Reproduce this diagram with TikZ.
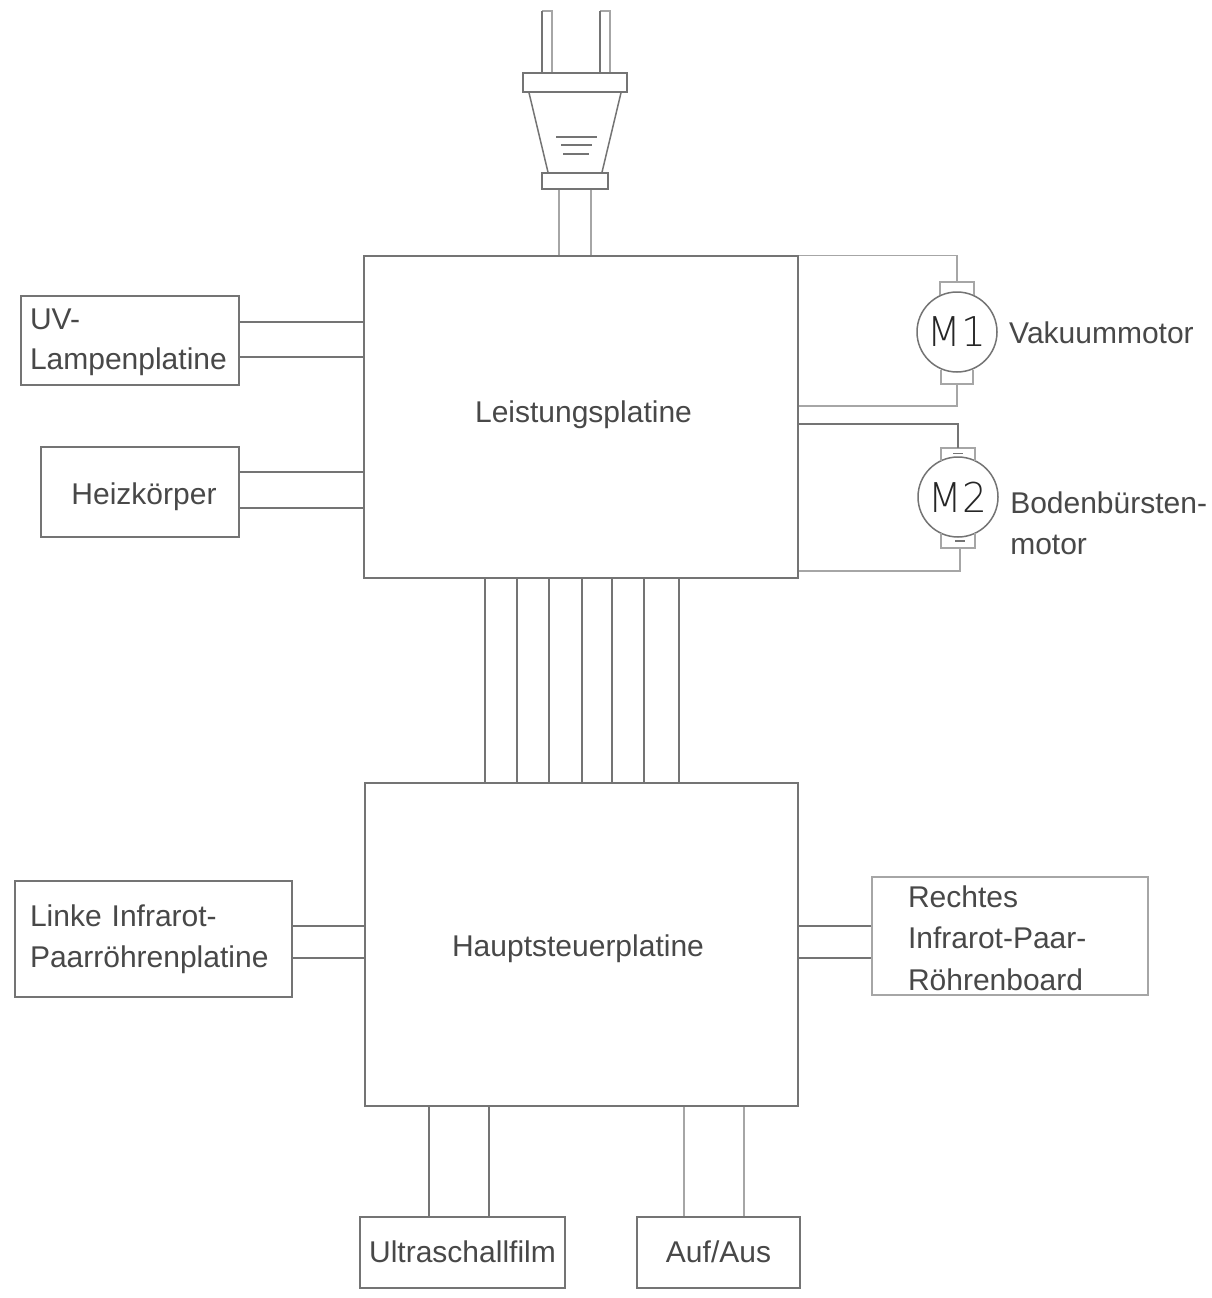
\documentclass[tikz,border=0pt]{standalone}
\usepackage{fontspec}
\setmainfont{Liberation Sans}
\newfontfamily\mfont{DejaVu Sans}[UprightFont=* ExtraLight]
\definecolor{ln}{HTML}{747474}
\definecolor{lnl}{HTML}{A6A6A6}
\definecolor{tx}{HTML}{484848}
\tikzset{
  wire/.style={draw=ln,line width=1.5pt},
  lwire/.style={draw=lnl,line width=1.5pt},
  lbl/.style={text=tx,font=\fontsize{30}{40.5}\selectfont,inner sep=0pt},
  mcirc/.style={circle,draw=ln,line width=1.5pt,minimum size=80pt,inner sep=0pt,text=black!85,font=\mfont\fontsize{41}{41}\selectfont},
  leftbox/.style n args={2}{lbl,draw=ln,line width=1.5pt,text width=#1,inner ysep=0pt,minimum height=#2,align=left},
}
\begin{document}
\begin{tikzpicture}[x=1pt,y=-1pt]
\useasboundingbox[fill=white] (0,0) rectangle (1212,1298);
% main boards
\node[lbl,draw=ln,line width=1.5pt,minimum width=434pt,minimum height=322pt] (leist) at (581,417) {};
\node[lbl] (leisttxt) at (583.5,414.5) {Leistungsplatine};
\node[lbl,draw=ln,line width=1.5pt,minimum width=433pt,minimum height=323pt] (haupt) at (581.5,944.5) {};
\node[lbl] (haupttxt) at (578,948.5) {Hauptsteuerplatine};
% side boxes
\node[leftbox={200pt}{89pt},inner xsep=9pt] (uv) at (130,340.5) {\rule{0pt}{24pt}UV-\\Lampenplatine};
\node[lbl,draw=ln,line width=1.5pt,minimum width=198pt,minimum height=90pt] (heiz) at (140,492) {};
\node[lbl] (heiztxt) at (144,497) {Heizkörper};
\node[leftbox={247pt}{116pt},inner xsep=15pt] (linke) at (153.5,939) {Linke Infrarot-\\Paarröhrenplatine};
\node[leftbox={204pt}{118pt},draw=lnl,inner xsep=36pt,font=\fontsize{30}{41.5}\selectfont] (rechts) at (1010,936) {\rule{0pt}{26pt}Rechtes\\Infrarot-Paar-\\Röhrenboard};
\node[lbl,draw=ln,line width=1.5pt,minimum width=205pt,minimum height=71pt] (ultra) at (462.5,1252.5) {\raisebox{1.5pt}{Ultraschallfilm}};
\node[lbl,draw=ln,line width=1.5pt,minimum width=163pt,minimum height=71pt] (auf) at (718.5,1252.5) {\raisebox{1.5pt}{Auf/Aus}};
% side connectors
\foreach \y in {322,357} \draw[wire] (uv.east|-0,\y) -- (leist.west|-0,\y);
\foreach \y in {472,508} \draw[wire] (heiz.east|-0,\y) -- (leist.west|-0,\y);
\foreach \y in {926,958} \draw[wire] (linke.east|-0,\y) -- (haupt.west|-0,\y);
\foreach \y in {926,958} \draw[wire] (haupt.east|-0,\y) -- (rechts.west|-0,\y);
% board to board
\foreach \x in {485,517,549,582,612,644,679} \draw[wire] (leist.south-|\x,0) -- (haupt.north-|\x,0);
% bottom connectors
\foreach \x in {429,489} \draw[wire] (haupt.south-|\x,0) -- (ultra.north-|\x,0);
\foreach \x in {684,744} \draw[lwire] (haupt.south-|\x,0) -- (auf.north-|\x,0);
% plug
\node[draw=ln,line width=1.5pt,minimum width=66pt,minimum height=16pt,inner sep=0pt] (collar) at (575,181) {};
\node[draw=ln,line width=1.5pt,minimum width=104pt,minimum height=19pt,inner sep=0pt] (flange) at (575,82.5) {};
\coordinate (pinA) at (542,11);
\coordinate (pinB) at (600,11);
\draw[lwire] (pinA) -- ++(10,0) -- (flange.north-|552,0);
\draw[lwire] (pinB) -- ++(10,0) -- (flange.north-|610,0);
\draw[wire] (flange.north-|pinA) -- (pinA);
\draw[wire] (flange.north-|pinB) -- (pinB);
\draw[wire] (flange.south-|529,0) -- (collar.north-|548,0);
\draw[wire] (flange.south-|621,0) -- (collar.north-|602,0);
\draw[wire,line width=1.2pt] (556,137) -- (597,137);
\draw[wire,line width=1.2pt] (561,145) -- (592,145);
\draw[wire,line width=1.2pt] (563,154) -- (589,154);
\foreach \x in {559,591} \draw[lwire] (collar.south-|\x,0) -- (leist.north-|\x,0);
% motor M1
\node[mcirc] (m1) at (957,332) {\scalebox{0.95}[1]{M1}};
\node[lbl,anchor=west] (m1txt) at (1009,333) {Vakuummotor};
\coordinate (m1t) at (957,282);
\coordinate (m1b) at (957,384);
\draw[lwire] (940,295) -- (940,282) -- (974,282) -- (974,295);
\draw[lwire] (941,370) -- (941,384) -- (973,384) -- (973,370);
\draw[lwire] (leist.north east) -- (m1t|-leist.north east) -- (m1t);
\draw[lwire] (leist.east|-0,406) -- (m1b|-0,406) -- (m1b);
% motor M2
\node[mcirc] (m2) at (958,497) {\scalebox{0.95}[1]{M2}};
\node[leftbox={200pt}{10pt},draw=none,anchor=west,inner xsep=0pt,font=\fontsize{30}{41}\selectfont] (m2txt) at (1009.5,523) {Bodenbürsten-\\motor};
\coordinate (m2t) at (958,448);
\coordinate (m2b) at (960,548);
\draw[lwire] (941,461) -- (941,448) -- (975,448) -- (975,461);
\draw[lwire] (941,533) -- (941,548) -- (975,548) -- (975,533);
\draw[wire] (953,453.5) -- (963,453.5);
\draw[wire] (955,541) -- (965,541);
\draw[wire] (leist.east|-0,424) -- (m2t|-0,424) -- (m2t);
\draw[lwire] (leist.east|-0,571) -- (m2b|-0,571) -- (m2b);
\end{tikzpicture}
\end{document}
